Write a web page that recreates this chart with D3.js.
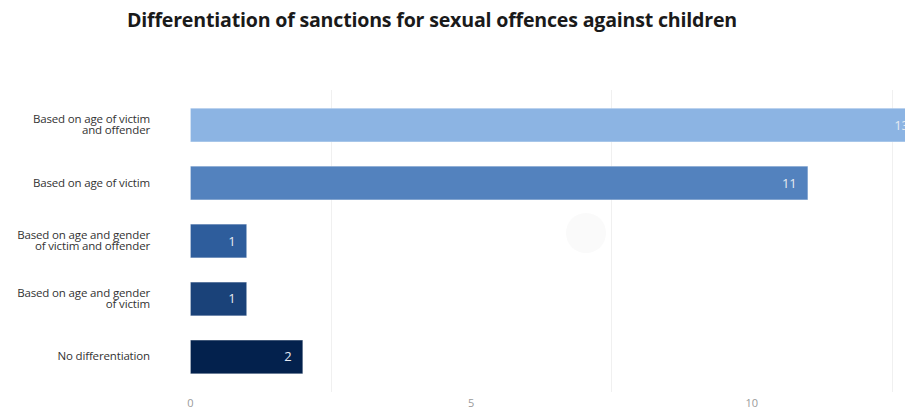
<!DOCTYPE html>
<html lang="en">
<head>
  <meta charset="UTF-8" />
  <title>Differentiation of sanctions</title>
  <style>
    body { margin: 0; background: #fff; }
    svg { display: block; }
    .title { font: bold 19.6px 'Open Sans', sans-serif; fill: #1a1a1a; letter-spacing: -0.2px; }
    .cat { font: 11.5px 'Open Sans', sans-serif; fill: #333; letter-spacing: -0.15px; }
    .val { font: 13px 'Open Sans', sans-serif; fill: #e6ebf2; }
    .tick { font: 11px 'Open Sans', sans-serif; fill: #9a9a9a; }
    .grid { stroke: #f0f0f0; stroke-width: 1; }
  </style>
</head>
<body>
  <svg id="chart" width="905" height="409"></svg>

  <script src="https://d3js.org/d3.v7.min.js"></script>
  <script>
    const categories = [
      ["Based on age of victim", "and offender"],
      ["Based on age of victim"],
      ["Based on age and gender", "of victim and offender"],
      ["Based on age and gender", "of victim"],
      ["No differentiation"]
    ];
    const values = [13, 11, 1, 1, 2];
    const colors = ["#8cb4e3", "#5382be", "#2e5d9c", "#1a4279", "#03214d"];
    const tickValues = [0, 5, 10];
    const gridValues = [2.5, 7.5, 12.5];

    const svg = d3.select("#chart");

    const x = d3.scaleLinear().domain([0, 12.5]).range([190.5, 892]);
    const y = d3.scaleBand().domain(d3.range(values.length)).range([99, 383]).paddingInner(0.42).paddingOuter(0.16);

    svg.append("text")
      .attr("class", "title")
      .attr("x", 432)
      .attr("y", 27)
      .attr("text-anchor", "middle")
      .text("Differentiation of sanctions for sexual offences against children");

    // faint watermark blob
    svg.append("circle").attr("cx", 586).attr("cy", 233).attr("r", 20).attr("fill", "#fafafa");

    svg.selectAll(".grid")
      .data(gridValues)
      .enter().append("line")
      .attr("class", "grid")
      .attr("x1", d => Math.round(x(d)) + 0.5)
      .attr("x2", d => Math.round(x(d)) + 0.5)
      .attr("y1", 90)
      .attr("y2", 392);

    svg.selectAll(".bar")
      .data(values)
      .enter().append("rect")
      .attr("class", "bar")
      .attr("x", x(0))
      .attr("y", (d, i) => y(i))
      .attr("width", d => x(d) - x(0))
      .attr("height", y.bandwidth())
      .attr("fill", (d, i) => colors[i])
      .attr("stroke", "rgba(255,255,255,0.25)")
      .attr("stroke-width", 1);

    svg.selectAll(".val")
      .data(values)
      .enter().append("text")
      .attr("class", "val")
      .attr("x", d => x(d) - 11)
      .attr("y", (d, i) => y(i) + y.bandwidth() / 2 + 4.5)
      .attr("text-anchor", "end")
      .text(d => d);

    svg.selectAll(".cat")
      .data(categories)
      .enter().append("text")
      .attr("class", "cat")
      .attr("text-anchor", "end")
      .each(function (lines, i) {
        const t = d3.select(this);
        const cy = y(i) + y.bandwidth() / 2;
        const lh = 10.5;
        const y0 = cy + 3.5 - (lines.length - 1) * lh / 2;
        lines.forEach((l, j) => {
          t.append("tspan").attr("x", 150).attr("y", y0 + j * lh).text(l);
        });
      });

    svg.selectAll(".tick")
      .data(tickValues)
      .enter().append("text")
      .attr("class", "tick")
      .attr("x", d => x(d))
      .attr("y", 407)
      .attr("text-anchor", "middle")
      .text(d => d);
  </script>
</body>
</html>
